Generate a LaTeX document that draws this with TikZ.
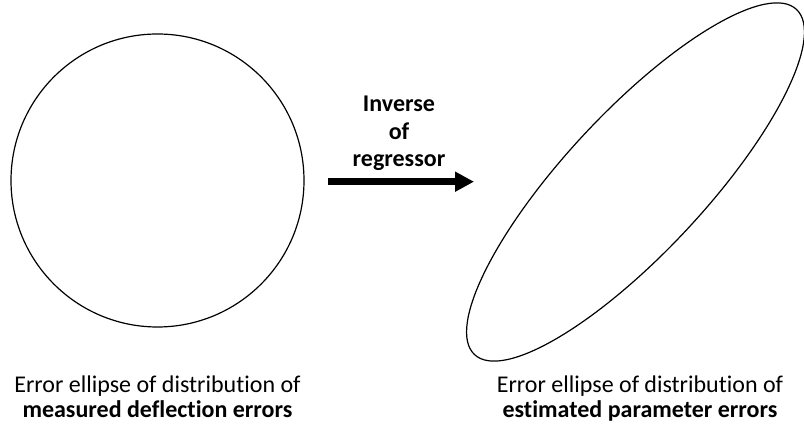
\documentclass[tikz,border=0pt]{standalone}
\usepackage{fontspec}
\setmainfont{Carlito}[Ligatures=NoCommon]
\usetikzlibrary{arrows.meta}
\begin{document}
\begin{tikzpicture}[x=1pt,y=1pt,
  outline/.style={draw=black,line width=1.2pt},
  caption/.style={anchor=base,align=center,inner sep=0pt,font=\fontsize{24}{25.5}\selectfont},
  label/.style={anchor=base,align=center,inner sep=0pt,font=\fontsize{24}{27.5}\selectfont\bfseries},
  bigarrow/.style={line width=7.5pt,-{Triangle[length=19pt,width=19pt]}}]
\useasboundingbox (0,0) rectangle (804,433);
\draw[outline] (157.5,252.5) circle[radius=146.5];
\draw[outline,rotate around={47:(635.5,251)}] (635.5,251) ellipse[x radius=236,y radius=70];
\coordinate (a) at (328,251.3);
\coordinate (b) at (474,251.3);
\draw[bigarrow] (a) -- (b);
\node[label] (lab) at (399,266) {Inverse\\of\\regressor};
\node[caption] (capL) at (157.5,15) {Error ellipse of distribution of\\\textbf{measured deflection errors}};
\node[caption] (capR) at (640,15) {Error ellipse of distribution of\\\textbf{estimated parameter errors}};
\end{tikzpicture}
\end{document}
